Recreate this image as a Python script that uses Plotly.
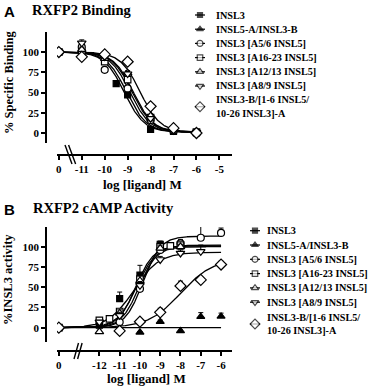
import numpy as np
import plotly.graph_objects as go

W, H = 384, 389

def fx(p):
    return p / W

def fy(p):
    return 1 - p / H

# ---------------- data ----------------
SERIES = ["INSL3", "INSL5-A/INSL3-B", "INSL3 [A5/6 INSL5]", "INSL3 [A16-23 INSL5]",
          "INSL3 [A12/13 INSL5]", "INSL3 [A8/9 INSL5]", "INSL3-B/[1-6 INSL5/", "10-26 INSL3]-A"]

BIND_ZERO = -12.0   # axis position of the "0" (no ligand) point, panel A
CAMP_ZERO = -14.0   # axis position of the "0" (no ligand) point, panel B

bind_ticks = [BIND_ZERO, -11, -10, -9, -8, -7, -6, -5]
bind_ticktext = ["0", "-11", "-10", "-9", "-8", "-7", "-6", "-5"]
camp_ticks = [CAMP_ZERO, -12, -11, -10, -9, -8, -7, -6]
camp_ticktext = ["0", "-12", "-11", "-10", "-9", "-8", "-7", "-6"]
y_ticks = [0, 25, 50, 75, 100]

# Panel A: RXFP2 binding (% specific binding)
bind_x_insl3 = [BIND_ZERO, -11, -10, -9.5, -9, -8, -7, -6]
bind_insl3 = [100, 100, 89, 61, 47, 4.5, 2, 0]
bind_insl3_err = [0, 2, 3, 3, 3, 1, 1, 1]
bind_x = [BIND_ZERO, -11, -10, -9, -8, -7, -6]
bind_a56 = [100, 106, 78, 55, 16, 3, 0]
bind_a56_err = [0, 5, 3, 3, 2, 1, 1]
bind_a1623 = [100, 99, 88, 66, 19, 4, 1]
bind_a1623_err = [0, 3, 3, 3, 2, 1, 1]
bind_a1213 = [100, 103, 92, 74, 21, 5, 1]
bind_a1213_err = [0, 3, 3, 3, 2, 1, 1]
bind_a89 = [100, 111, 94, 73, 18, 3, 1]
bind_a89_err = [0, 4, 3, 3, 2, 1, 1]
bind_chim = [100, 94, 97, 88, 33, 6, 0]
bind_chim_err = [0, 2, 2, 3, 3, 1, 1]
# fitted logIC50 of the one-site curves
bind_logic50 = {"insl3": -9.15, "a56": -9.05, "a1623": -8.9, "a1213": -8.75, "a89": -8.8, "chim": -8.45}

# Panel B: RXFP2 cAMP activity (% INSL3 activity)
camp_x_insl3 = [CAMP_ZERO, -12, -11, -10, -9, -8]
camp_insl3 = [0, 3, 36, 65, 103, 101]
camp_insl3_err = [0, 2, 8, 12, 4, 3]
camp_x_i5 = [CAMP_ZERO, -10, -9, -8, -7, -6]
camp_i5 = [0, -5.7, 7.4, -4, 13.6, 14]
camp_i5_err = [0, 1, 2, 1, 5, 4]
camp_x_a56 = [CAMP_ZERO, -11, -10, -9, -8, -7, -6]
camp_a56 = [0, 7, 48, 96, 104, 111, 117]
camp_a56_err = [0, 2, 5, 4, 5, 14, 6]
camp_x_a1623 = [CAMP_ZERO, -12, -11.5, -11, -10, -9, -8.5, -8]
camp_a1623 = [0, 9, 11, 20, 60, 100, 101, 102]
camp_a1623_err = [0, 2, 2, 3, 5, 3, 3, 3]
camp_x_a1213 = [CAMP_ZERO, -12, -11, -10, -9, -8]
camp_a1213 = [0, -5, 18, 58, 98, 100]
camp_a1213_err = [0, 2, 4, 6, 4, 3]
camp_x_a89 = [CAMP_ZERO, -12, -11, -10, -9, -8, -7]
camp_a89 = [0, 7, 15, 52, 84, 92, 94]
camp_a89_err = [0, 2, 4, 5, 4, 4, 8]
camp_x_chim = [CAMP_ZERO, -11, -10, -9, -8, -7, -6]
camp_chim = [0, -4, 7.4, 19, 51.5, 59, 78]
camp_chim_err = [0, 1, 2, 5, 6, 3, 4]
# fitted (logEC50, top, Hill slope)
camp_fit = {"insl3": (-10.2, 101, 1.0), "i5": (-10.0, 0, 1.0), "a56": (-9.85, 113, 1.0),
            "a1623": (-10.15, 102, 0.9), "a1213": (-10.05, 100, 1.0),
            "a89": (-10.3, 93, 0.7), "chim": (-8.0, 85, 0.55)}

# ---------------- styles ----------------
SERIF = "Liberation Serif"
SANS = "Liberation Sans"
sym = {"insl3": ("square", "black", 6), "i5": ("triangle-up", "black", 7),
       "a56": ("circle", "white", 7), "a1623": ("square", "white", 6.5),
       "a1213": ("triangle-up", "white", 7.5), "a89": ("triangle-down", "white", 7.5),
       "chim": ("diamond", "white", 8.5)}

fig = go.Figure()

def curve(xa, ya, xs, ys):
    fig.add_trace(go.Scatter(x=xs, y=ys, mode="lines", line=dict(color="black", width=1.3),
                             xaxis=xa, yaxis=ya, showlegend=False, hoverinfo="skip"))

def points(xa, ya, key, xs, ys, err):
    s, c, sz = sym[key]
    fig.add_trace(go.Scatter(
        x=xs, y=ys, mode="markers", xaxis=xa, yaxis=ya, showlegend=False,
        marker=dict(symbol=s, color=c, size=sz, line=dict(color="black", width=1.2)),
        error_y=dict(type="data", array=err, arrayminus=[0] * len(err), symmetric=False,
                     color="black", thickness=1, width=2.5)))

# Panel A curves
xa_grid = np.linspace(BIND_ZERO, -6, 300)
for k, lic in bind_logic50.items():
    curve("x", "y", xa_grid, 1 + 99 / (1 + 10 ** (xa_grid - lic)))
points("x", "y", "insl3", bind_x_insl3, bind_insl3, bind_insl3_err)
points("x", "y", "a56", bind_x, bind_a56, bind_a56_err)
points("x", "y", "a1623", bind_x, bind_a1623, bind_a1623_err)
points("x", "y", "a1213", bind_x, bind_a1213, bind_a1213_err)
points("x", "y", "a89", bind_x, bind_a89, bind_a89_err)
points("x", "y", "chim", bind_x, bind_chim, bind_chim_err)

# Panel B curves
xb_grid = np.linspace(CAMP_ZERO, -6, 300)
for k, (lec, top, hill) in camp_fit.items():
    curve("x2", "y2", xb_grid, top / (1 + 10 ** ((lec - xb_grid) * hill)))
points("x2", "y2", "insl3", camp_x_insl3, camp_insl3, camp_insl3_err)
points("x2", "y2", "i5", camp_x_i5, camp_i5, camp_i5_err)
points("x2", "y2", "a56", camp_x_a56, camp_a56, camp_a56_err)
points("x2", "y2", "a1623", camp_x_a1623, camp_a1623, camp_a1623_err)
points("x2", "y2", "a1213", camp_x_a1213, camp_a1213, camp_a1213_err)
points("x2", "y2", "a89", camp_x_a89, camp_a89, camp_a89_err)
points("x2", "y2", "chim", camp_x_chim, camp_chim, camp_chim_err)

# ---------------- manual legends ----------------
annotations = []
shapes = []
keys = ["insl3", "i5", "a56", "a1623", "a1213", "a89", "chim"]
LEG_FONT = dict(family=SERIF, size=10.2, color="black", weight="bold")

def legend(mx, tx, y0, dy, last_center):
    lx, ly, ls, lc, lz = [], [], [], [], []
    rows = [y0 + dy * i for i in range(6)] + [last_center]
    for i, k in enumerate(keys):
        s, c, sz = sym[k]
        lx.append(mx); ly.append(rows[i]); ls.append(s); lc.append(c); lz.append(sz - 1)
        shapes.append(dict(type="line", xref="paper", yref="paper", layer="below",
                           x0=fx(mx - 5), x1=fx(mx + 5), y0=fy(rows[i]), y1=fy(rows[i]),
                           line=dict(color="black", width=1.2)))
    fig.add_trace(go.Scatter(x=lx, y=ly, mode="markers", xaxis="x3", yaxis="y3", showlegend=False,
                             hoverinfo="skip",
                             marker=dict(symbol=ls, color=lc, size=lz, line=dict(color="black", width=1.2))))
    for i, t in enumerate(SERIES[:6]):
        annotations.append(dict(text=t, x=fx(tx), y=fy(rows[i]), xref="paper", yref="paper",
                                xanchor="left", yanchor="middle", showarrow=False, font=LEG_FONT))
    for j, t in enumerate(SERIES[6:]):
        annotations.append(dict(text=t, x=fx(tx), y=fy(last_center + (j - 0.5) * 13.5),
                                xref="paper", yref="paper", xanchor="left", yanchor="middle",
                                showarrow=False, font=LEG_FONT))

legend(200, 214, 15, 14.2, 106.7)
legend(255, 265, 230.7, 14.3, 324)

# titles / axis labels
def txt(t, x, y, size, family, angle=0, xanchor="center"):
    annotations.append(dict(text=t, x=fx(x), y=fy(y), xref="paper", yref="paper",
                            xanchor=xanchor, yanchor="middle", showarrow=False, textangle=angle,
                            font=dict(family=family, size=size, color="black", weight="bold")))

txt("A", 2, 12, 15, SANS, xanchor="left")
txt("RXFP2 Binding", 30, 10, 14.5, SERIF, xanchor="left")
txt("B", 2, 209, 15, SANS, xanchor="left")
txt("RXFP2 cAMP Activity", 31, 208, 14.5, SERIF, xanchor="left")
txt("% Specific Binding", 9, 82, 12.5, SERIF, angle=-90)
txt("%INSL3 activity", 8, 280, 12.5, SERIF, angle=-90)
txt("log [ligand] M", 142, 185, 13, SERIF)
txt("log [ligand] M", 146, 378, 13, SERIF)

# axis break marks
for off in (0, 3.6):
    shapes.append(dict(type="line", xref="paper", yref="paper",
                       x0=fx(65 + off), y0=fy(145), x1=fx(72 + off), y1=fy(164),
                       line=dict(color="black", width=1.4)))
    shapes.append(dict(type="line", xref="paper", yref="paper",
                       x0=fx(74 + off), y0=fy(359), x1=fx(78.5 + off), y1=fy(343),
                       line=dict(color="black", width=1.4)))

tickfont = dict(family=SERIF, size=11, color="black", weight="bold")
axis_common = dict(showgrid=False, zeroline=False, showline=True, linecolor="black", linewidth=1.5,
                   ticks="outside", ticklen=4, tickwidth=1.5, tickcolor="black", tickfont=tickfont,
                   anchor="free", fixedrange=True)

fig.update_layout(
    width=W, height=H, margin=dict(l=0, r=0, t=0, b=0),
    paper_bgcolor="white", plot_bgcolor="rgba(0,0,0,0)", showlegend=False,
    xaxis=dict(domain=[fx(57), fx(232)], range=[-12.08, -4.45], tickvals=bind_ticks,
               ticktext=bind_ticktext, position=fy(155), **axis_common),
    yaxis=dict(domain=[fy(143), fy(32)], range=[-12.35, 124.7], tickvals=y_ticks,
               position=fx(46), **axis_common),
    xaxis2=dict(domain=[fx(57), fx(232)], range=[-14.09, -5.46], tickvals=camp_ticks,
                ticktext=camp_ticktext, position=fy(351), **axis_common),
    yaxis2=dict(domain=[fy(342), fy(227)], range=[-17.65, 124.3], tickvals=y_ticks,
                position=fx(46), **axis_common),
    xaxis3=dict(domain=[0, 1], range=[0, W], visible=False, fixedrange=True),
    yaxis3=dict(domain=[0, 1], range=[H, 0], visible=False, fixedrange=True),
    annotations=annotations, shapes=shapes,
)

fig.write_html("out.html", config={"displayModeBar": False},
               post_script="document.body.style.margin='0';document.body.style.overflow='hidden';")
